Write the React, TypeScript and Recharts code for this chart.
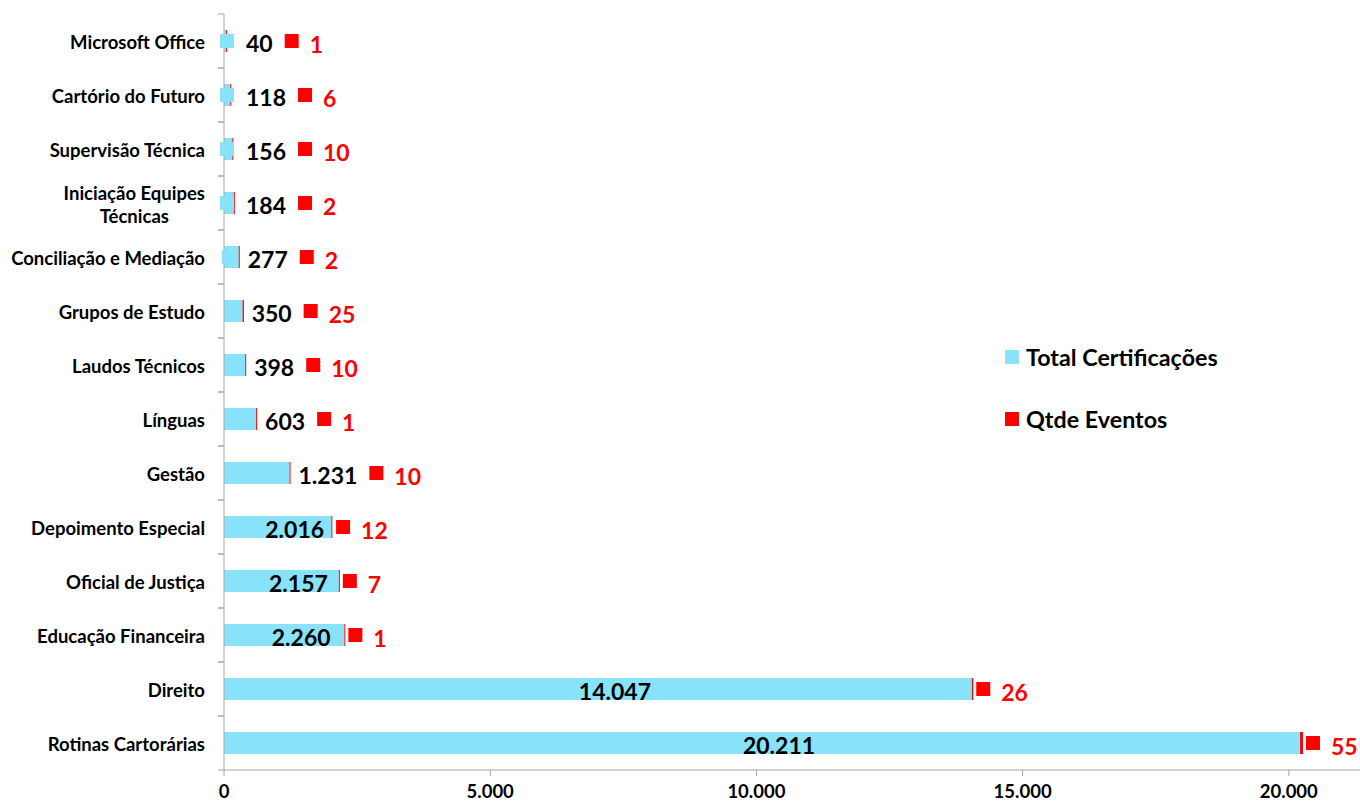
import { BarChart, Bar, XAxis, YAxis, Legend, LabelList } from 'recharts';

const CATEGORIES = [
  'Microsoft Office',
  'Cartório do Futuro',
  'Supervisão Técnica',
  'Iniciação Equipes\nTécnicas',
  'Conciliação e Mediação',
  'Grupos de Estudo',
  'Laudos Técnicos',
  'Línguas',
  'Gestão',
  'Depoimento Especial',
  'Oficial de Justiça',
  'Educação Financeira',
  'Direito',
  'Rotinas Cartorárias',
];
const TOTAL_CERT = [40, 118, 156, 184, 277, 350, 398, 603, 1231, 2016, 2157, 2260, 14047, 20211];
const QTDE_EVENTOS = [1, 6, 10, 2, 2, 25, 10, 1, 10, 12, 7, 1, 26, 55];
const X_TICKS = [0, 5000, 10000, 15000, 20000];

const rows = CATEGORIES.map((name, i) => ({ name, total: TOTAL_CERT[i], eventos: QTDE_EVENTOS[i] }));

const W = 1360;
const H = 803;
const PLOT_LEFT = 224;
const FONT = "Lato, 'Liberation Sans', sans-serif";
const BLUE = '#88E3FA';
const RED = '#FF0000';
const AXIS = '#A6A6A6';
const LABEL_SIZE = 23;
const CAT_SIZE = 18.5;
const KEY = 14;
const KEY_GAP = 12;

const fmt = (v: number) => String(v).replace(/\B(?=(\d{3})+(?!\d))/g, '.');

let ctx: CanvasRenderingContext2D | null = null;
function textWidth(s: string, size: number) {
  if (!ctx) ctx = document.createElement('canvas').getContext('2d');
  if (!ctx) return s.length * size * 0.55;
  ctx.font = `bold ${size}px Lato`;
  return ctx.measureText(s).width;
}

// where the blue data label (legend key + number) goes
function blueLayout(start: number, end: number, text: string) {
  const tw = textWidth(text, LABEL_SIZE);
  const group = KEY + KEY_GAP + tw;
  if (end - start >= group + 10) {
    const c = (start + end) / 2 + 17;
    return { keyX: c - tw / 2 - KEY_GAP - KEY, textX: c - tw / 2, right: c + tw / 2 };
  }
  const keyX = Math.max(end - 17, start - 4);
  return { keyX, textX: keyX + KEY + KEY_GAP, right: keyX + KEY + KEY_GAP + tw };
}

const BlueLabel = (p: any) => {
  const i = CATEGORIES.indexOf(p.value);
  const text = fmt(TOTAL_CERT[i]);
  const L = blueLayout(p.x, p.x + p.width, text);
  const cy = p.y + p.height / 2;
  return (
    <g>
      <rect x={L.keyX} y={cy - KEY / 2} width={KEY} height={KEY} fill={BLUE} />
      <text x={L.textX} y={cy + 10.5} fill="#000" fontSize={LABEL_SIZE} fontWeight={700} fontFamily={FONT}>{text}</text>
    </g>
  );
};

const RedLabel = (p: any) => {
  const i = CATEGORIES.indexOf(p.value);
  const blue = blueLayout(PLOT_LEFT, p.x, fmt(TOTAL_CERT[i]));
  const redEnd = p.x + Math.max(p.width, 1);
  const keyX = Math.max(redEnd + 3, blue.right + 12);
  const cy = p.y + p.height / 2;
  return (
    <g>
      <rect x={keyX} y={cy - KEY / 2} width={KEY} height={KEY} fill={RED} />
      <text x={keyX + KEY + 11} y={cy + 11.5} fill={RED} fontSize={LABEL_SIZE} fontWeight={700} fontFamily={FONT}>{QTDE_EVENTOS[i]}</text>
    </g>
  );
};

const ThinBar = (p: any) => (
  <rect x={p.x} y={p.y} width={Math.max(p.width, 1)} height={p.height} fill={p.fill} />
);

const CategoryTick = (p: any) => {
  const { y, payload } = p;
  const half = payload?.offset || 27;
  const lines = String(payload.value).split('\n');
  const right = PLOT_LEFT - 19;
  const widest = Math.max(...lines.map((l) => textWidth(l, CAT_SIZE)));
  const first = y + 8 - ((lines.length - 1) * 23) / 2;
  return (
    <g>
      <line x1={PLOT_LEFT - 6} x2={PLOT_LEFT} y1={y - half} y2={y - half} stroke={AXIS} />
      <line x1={PLOT_LEFT - 6} x2={PLOT_LEFT} y1={y + half} y2={y + half} stroke={AXIS} />
      {lines.map((l, k) => (
        <text
          key={k}
          x={lines.length > 1 ? right - widest / 2 : right}
          y={first + k * 23}
          textAnchor={lines.length > 1 ? 'middle' : 'end'}
          fill="#000"
          fontSize={CAT_SIZE}
          fontWeight={700}
          fontFamily={FONT}
        >
          {l}
        </text>
      ))}
    </g>
  );
};

const renderLegend = () => (
  <div style={{ fontFamily: FONT, fontWeight: 700, fontSize: 23.3, color: '#000' }}>
    {[
      { c: BLUE, t: 'Total Certificações' },
      { c: RED, t: 'Qtde Eventos' },
    ].map((it, k) => (
      <div key={k} style={{ display: 'flex', alignItems: 'center', height: 30, marginTop: k ? 32 : 0, whiteSpace: 'nowrap' }}>
        <span style={{ display: 'inline-block', width: 14, height: 14, background: it.c, marginRight: 7 }} />
        {it.t}
      </div>
    ))}
  </div>
);

export default function App() {
  return (
    <div style={{ position: 'fixed', left: 0, top: 0, width: W, height: H, background: '#fff' }}>
      <BarChart
        width={W}
        height={H}
        data={rows}
        layout="vertical"
        margin={{ top: 14, right: 0, bottom: 0, left: 8 }}
        barSize={22}
      >
        <XAxis
          type="number"
          domain={[0, 21337]}
          ticks={X_TICKS}
          tickFormatter={fmt}
          height={33}
          axisLine={{ stroke: AXIS }}
          tickLine={{ stroke: AXIS }}
          tickSize={6}
          tickMargin={9}
          tick={{ fill: '#000', fontSize: CAT_SIZE, fontWeight: 700, fontFamily: FONT }}
        />
        <YAxis
          type="category"
          dataKey="name"
          width={216}
          interval={0}
          tickLine={false}
          axisLine={{ stroke: AXIS }}
          tick={<CategoryTick />}
        />
        <Legend
          layout="vertical"
          align="center"
          verticalAlign="middle"
          content={renderLegend}
          wrapperStyle={{ left: 1005, top: 342, width: 320 }}
        />
        <Bar dataKey="total" name="Total Certificações" stackId="s" fill={BLUE} isAnimationActive={false}>
          <LabelList dataKey="name" content={<BlueLabel />} />
        </Bar>
        <Bar dataKey="eventos" name="Qtde Eventos" stackId="s" fill={RED} shape={<ThinBar />} isAnimationActive={false}>
          <LabelList dataKey="name" content={<RedLabel />} />
        </Bar>
      </BarChart>
    </div>
  );
}
